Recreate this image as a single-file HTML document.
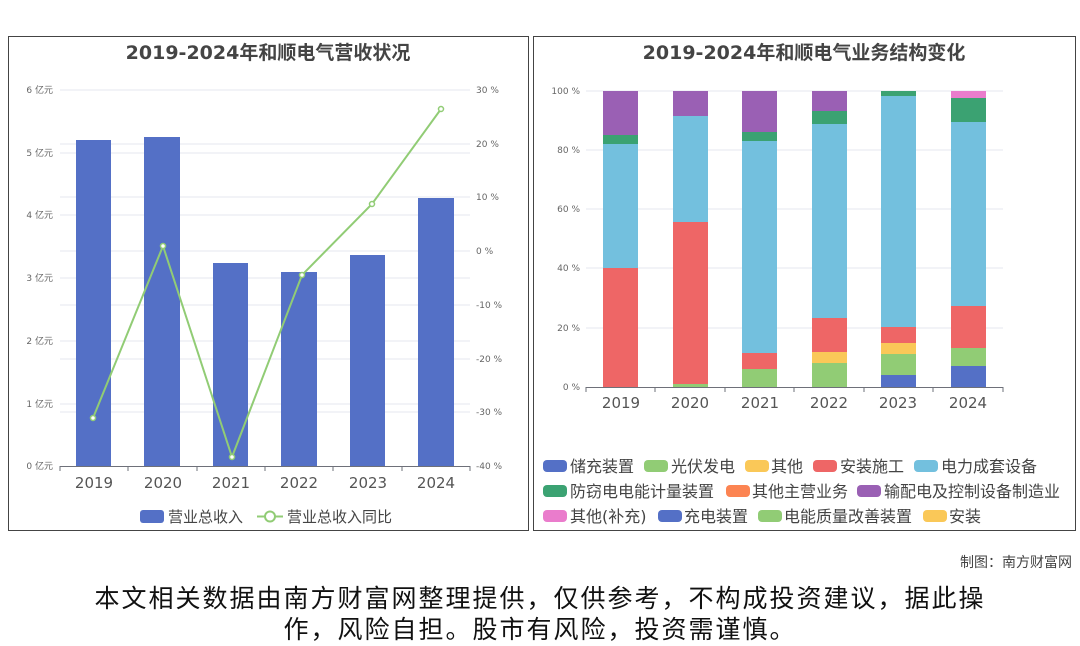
<!DOCTYPE html>
<html><head><meta charset="utf-8"><style>
body{margin:0;background:#fff;width:1080px;height:646px;overflow:hidden}
svg{display:block}
text{font-family:"DejaVu Sans","Noto Sans CJK SC",sans-serif}
</style></head><body>
<svg width="1080" height="646" viewBox="0 0 1080 646">
<rect x="0" y="0" width="1080" height="646" fill="#fff"/>
<rect x="8.5" y="36.5" width="520" height="494" fill="#fff" stroke="#444" stroke-width="1"/>
<rect x="533.5" y="36.5" width="542" height="494" fill="#fff" stroke="#444" stroke-width="1"/>
<text x="268" y="59" text-anchor="middle" font-size="19" font-weight="bold" fill="#444">2019-2024年和顺电气营收状况</text>
<text x="804" y="59" text-anchor="middle" font-size="19" font-weight="bold" fill="#444">2019-2024年和顺电气业务结构变化</text>
<g stroke="#e4e7ef" stroke-width="1">
<line x1="60" x2="470" y1="90" y2="90"/><line x1="60" x2="470" y1="153" y2="153"/><line x1="60" x2="470" y1="215" y2="215"/><line x1="60" x2="470" y1="278" y2="278"/><line x1="60" x2="470" y1="341" y2="341"/><line x1="60" x2="470" y1="404" y2="404"/>
<line x1="60" x2="470" y1="144" y2="144"/><line x1="60" x2="470" y1="197" y2="197"/><line x1="60" x2="470" y1="251" y2="251"/><line x1="60" x2="470" y1="305" y2="305"/><line x1="60" x2="470" y1="359" y2="359"/><line x1="60" x2="470" y1="412" y2="412"/>
</g>
<g font-size="9" fill="#666" text-anchor="end">
<text x="53" y="93">6 亿元</text><text x="53" y="156">5 亿元</text><text x="53" y="218">4 亿元</text><text x="53" y="281">3 亿元</text><text x="53" y="344">2 亿元</text><text x="53" y="407">1 亿元</text><text x="53" y="469">0 亿元</text>
</g>
<g font-size="9" fill="#666">
<text x="476" y="93">30 %</text><text x="476" y="147">20 %</text><text x="476" y="200">10 %</text><text x="476" y="254">0 %</text><text x="476" y="308">-10 %</text><text x="476" y="362">-20 %</text><text x="476" y="415">-30 %</text><text x="476" y="469">-40 %</text>
</g>
<g fill="#5470c6">
<rect x="76" y="140" width="35" height="326"/><rect x="144" y="137" width="36" height="329"/><rect x="213" y="263" width="35" height="203"/><rect x="281" y="272" width="36" height="194"/><rect x="350" y="255" width="35" height="211"/><rect x="418" y="198" width="36" height="268"/>
</g>
<line x1="60" x2="470" y1="466.5" y2="466.5" stroke="#6e7079"/>
<g stroke="#6e7079"><line x1="60" x2="60" y1="466" y2="471"/><line x1="128" x2="128" y1="466" y2="471"/><line x1="197" x2="197" y1="466" y2="471"/><line x1="265" x2="265" y1="466" y2="471"/><line x1="333" x2="333" y1="466" y2="471"/><line x1="402" x2="402" y1="466" y2="471"/><line x1="470" x2="470" y1="466" y2="471"/></g>
<g font-size="15" fill="#555" text-anchor="middle">
<text x="94" y="488">2019</text><text x="163" y="488">2020</text><text x="231" y="488">2021</text><text x="299" y="488">2022</text><text x="368" y="488">2023</text><text x="436" y="488">2024</text>
</g>
<polyline points="93,418 163,246 232,457 302,275 372,204 441,109" fill="none" stroke="#91cc75" stroke-width="2"/>
<g fill="#fff" stroke="#91cc75" stroke-width="1.5">
<circle cx="93" cy="418" r="2.5"/><circle cx="163" cy="246" r="2.5"/><circle cx="232" cy="457" r="2.5"/><circle cx="302" cy="275" r="2.5"/><circle cx="372" cy="204" r="2.5"/><circle cx="441" cy="109" r="2.5"/>
</g>
<rect x="140" y="510" width="24" height="13" rx="3" fill="#5470c6"/>
<text x="168" y="522" font-size="15" fill="#444">营业总收入</text>
<line x1="257" x2="283" y1="516.5" y2="516.5" stroke="#91cc75" stroke-width="2"/>
<circle cx="270" cy="516.5" r="5" fill="#fff" stroke="#91cc75" stroke-width="2"/>
<text x="287" y="522" font-size="15" fill="#444">营业总收入同比</text>
<g stroke="#e4e7ef"><line x1="586" x2="1003" y1="91" y2="91"/><line x1="586" x2="1003" y1="150" y2="150"/><line x1="586" x2="1003" y1="209" y2="209"/><line x1="586" x2="1003" y1="268" y2="268"/><line x1="586" x2="1003" y1="328" y2="328"/></g>
<g font-size="9" fill="#666" text-anchor="end">
<text x="580" y="94">100 %</text><text x="580" y="153">80 %</text><text x="580" y="212">60 %</text><text x="580" y="271">40 %</text><text x="580" y="331">20 %</text><text x="580" y="390">0 %</text>
</g>
<rect x="603" y="268" width="35" height="119" fill="#ee6666"/><rect x="603" y="144" width="35" height="124" fill="#73c0de"/><rect x="603" y="135" width="35" height="9" fill="#3ba272"/><rect x="603" y="91" width="35" height="44" fill="#9a60b4"/>
<rect x="673" y="384" width="35" height="3" fill="#91cc75"/><rect x="673" y="222" width="35" height="162" fill="#ee6666"/><rect x="673" y="116" width="35" height="106" fill="#73c0de"/><rect x="673" y="91" width="35" height="25" fill="#9a60b4"/>
<rect x="742" y="369" width="35" height="18" fill="#91cc75"/><rect x="742" y="353" width="35" height="16" fill="#ee6666"/><rect x="742" y="141" width="35" height="212" fill="#73c0de"/><rect x="742" y="132" width="35" height="9" fill="#3ba272"/><rect x="742" y="91" width="35" height="41" fill="#9a60b4"/>
<rect x="812" y="363" width="35" height="24" fill="#91cc75"/><rect x="812" y="352" width="35" height="11" fill="#fac858"/><rect x="812" y="318" width="35" height="34" fill="#ee6666"/><rect x="812" y="124" width="35" height="194" fill="#73c0de"/><rect x="812" y="111" width="35" height="13" fill="#3ba272"/><rect x="812" y="91" width="35" height="20" fill="#9a60b4"/>
<rect x="881" y="375" width="35" height="12" fill="#5470c6"/><rect x="881" y="354" width="35" height="21" fill="#91cc75"/><rect x="881" y="343" width="35" height="11" fill="#fac858"/><rect x="881" y="327" width="35" height="16" fill="#ee6666"/><rect x="881" y="96" width="35" height="231" fill="#73c0de"/><rect x="881" y="91" width="35" height="5" fill="#3ba272"/>
<rect x="951" y="366" width="35" height="21" fill="#5470c6"/><rect x="951" y="348" width="35" height="18" fill="#91cc75"/><rect x="951" y="306" width="35" height="42" fill="#ee6666"/><rect x="951" y="122" width="35" height="184" fill="#73c0de"/><rect x="951" y="98" width="35" height="24" fill="#3ba272"/><rect x="951" y="91" width="35" height="7" fill="#ea7ccc"/>
<line x1="586" x2="1003" y1="387.5" y2="387.5" stroke="#6e7079"/>
<g stroke="#6e7079"><line x1="586" x2="586" y1="387" y2="392"/><line x1="655" x2="655" y1="387" y2="392"/><line x1="725" x2="725" y1="387" y2="392"/><line x1="794" x2="794" y1="387" y2="392"/><line x1="864" x2="864" y1="387" y2="392"/><line x1="933" x2="933" y1="387" y2="392"/><line x1="1003" x2="1003" y1="387" y2="392"/></g>
<g font-size="15" fill="#555" text-anchor="middle">
<text x="621" y="408">2019</text><text x="690" y="408">2020</text><text x="760" y="408">2021</text><text x="829" y="408">2022</text><text x="898" y="408">2023</text><text x="968" y="408">2024</text>
</g>
<g font-size="16" fill="#444">
<rect x="543" y="460" width="24" height="12" rx="4" fill="#5470c6"/><text x="570" y="472">储充装置</text>
<rect x="644" y="460" width="24" height="12" rx="4" fill="#91cc75"/><text x="671" y="472">光伏发电</text>
<rect x="745" y="460" width="24" height="12" rx="4" fill="#fac858"/><text x="771" y="472">其他</text>
<rect x="813" y="460" width="24" height="12" rx="4" fill="#ee6666"/><text x="840" y="472">安装施工</text>
<rect x="914" y="460" width="24" height="12" rx="4" fill="#73c0de"/><text x="941" y="472">电力成套设备</text>
<rect x="543" y="485" width="24" height="12" rx="4" fill="#3ba272"/><text x="570" y="497">防窃电电能计量装置</text>
<rect x="726" y="485" width="24" height="12" rx="4" fill="#fc8452"/><text x="752" y="497">其他主营业务</text>
<rect x="857" y="485" width="24" height="12" rx="4" fill="#9a60b4"/><text x="884" y="497">输配电及控制设备制造业</text>
<rect x="543" y="510" width="24" height="12" rx="4" fill="#ea7ccc"/><text x="570" y="522">其他(补充)</text>
<rect x="658" y="510" width="24" height="12" rx="4" fill="#5470c6"/><text x="684" y="522">充电装置</text>
<rect x="758" y="510" width="24" height="12" rx="4" fill="#91cc75"/><text x="784" y="522">电能质量改善装置</text>
<rect x="923" y="510" width="24" height="12" rx="4" fill="#fac858"/><text x="949" y="522">安装</text>
</g>
<text x="1072" y="567" text-anchor="end" font-size="14" fill="#444">制图：南方财富网</text>
<text x="540" y="607" text-anchor="middle" font-size="25" letter-spacing="2" fill="#111">本文相关数据由南方财富网整理提供，仅供参考，不构成投资建议，据此操</text>
<text x="540" y="638" text-anchor="middle" font-size="25" letter-spacing="2" fill="#111">作，风险自担。股市有风险，投资需谨慎。</text>
</svg>
</body></html>
